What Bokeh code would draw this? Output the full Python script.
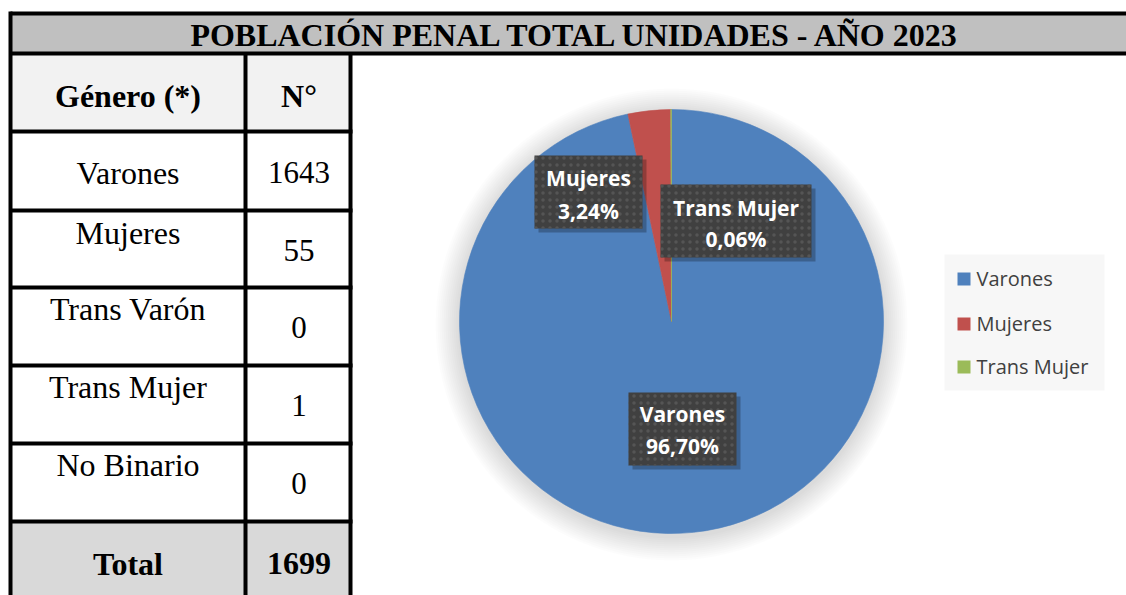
import numpy as np
from bokeh.plotting import figure
from bokeh.models import Range1d
from bokeh.core.properties import value
from bokeh.embed import file_html
from bokeh.resources import INLINE

# ---------------- data ----------------
title = "POBLACIÓN PENAL TOTAL UNIDADES - AÑO 2023"
table_header = ["Género (*)", "N°"]
genders = ["Varones", "Mujeres", "Trans Varón", "Trans Mujer", "No Binario"]
counts = [1643, 55, 0, 1, 0]
total_label = "Total"
total = 1699
pie_categories = ["Varones", "Mujeres", "Trans Mujer"]
pie_values = [1643, 55, 1]
pie_colors = ["#4F81BD", "#C0504D", "#9BBB59"]

# ---------------- layout (reference pixel coords, y downwards) ----------------
W, H = 1126, 595
def Y(v):
    return 595 - v

p = figure(width=W, height=H, output_backend="svg", toolbar_location=None,
           x_range=Range1d(0, W), y_range=Range1d(0, H),
           min_border=0, min_border_left=0, min_border_right=0,
           min_border_top=0, min_border_bottom=0)
p.axis.visible = False
p.grid.visible = False
p.outline_line_color = None
p.background_fill_color = "white"
p.border_fill_color = "white"

SERIF = value("Liberation Serif")
SANS = value("Open Sans")

# ---------------- title bar ----------------
p.quad(left=[10], right=[1140], top=[Y(13)], bottom=[Y(53)],
       fill_color="#C0C0C0", line_color=None)
p.text(x=[576], y=[Y(34)], text=[title], text_font=SERIF, text_font_size="32px",
       text_font_style="bold", text_align="center", text_baseline="middle",
       text_color="black")

# ---------------- table ----------------
row_edges = [53, 131, 210, 287, 365, 443, 521, 605]
col_edges = [10, 245, 350]
row_fills = ["#F2F2F2", "white", "white", "white", "white", "white", "#D9D9D9"]
for i, f in enumerate(row_fills):
    p.quad(left=[col_edges[0]], right=[col_edges[2]], top=[Y(row_edges[i])],
           bottom=[Y(row_edges[i + 1])], fill_color=f, line_color=None)

# borders
p.segment(x0=[10, 10], y0=[Y(13), Y(53)], x1=[1140, 1140], y1=[Y(13), Y(53)],
          line_color="black", line_width=4)
p.segment(x0=[10], y0=[Y(11)], x1=[10], y1=[Y(605)], line_color="black", line_width=4)
for r in row_edges[1:-1]:
    p.segment(x0=[10], y0=[Y(r)], x1=[352], y1=[Y(r)], line_color="black", line_width=4)
for c in col_edges[1:]:
    p.segment(x0=[c], y0=[Y(53)], x1=[c], y1=[Y(605)], line_color="black", line_width=4)

cx1 = (col_edges[0] + col_edges[1]) / 2
cx2 = (col_edges[1] + col_edges[2]) / 2 + 1

# header
p.text(x=[cx1, cx2], y=[Y(95), Y(95)], text=table_header, text_font=SERIF,
       text_font_size="32px", text_font_style="bold", text_align="center",
       text_baseline="middle", text_color="black")

label_y = [172, 232, 308, 386, 464]
value_y = [172, 250, 327, 405, 483]
p.text(x=[cx1] * len(genders), y=[Y(v) for v in label_y], text=genders,
       text_font=SERIF, text_font_size="32px", text_align="center",
       text_baseline="middle", text_color="black")
p.text(x=[cx2] * len(counts), y=[Y(v) for v in value_y], text=[str(c) for c in counts],
       text_font=SERIF, text_font_size="31px", text_align="center",
       text_baseline="middle", text_color="black")
p.text(x=[cx1, cx2], y=[Y(563), Y(563)], text=[total_label, str(total)], text_font=SERIF,
       text_font_size="32px", text_font_style="bold", text_align="center",
       text_baseline="middle", text_color="black")

# ---------------- pie ----------------
cx, cy, R = 671, 321, 212
# soft shadow
for k in range(1, 13):
    p.circle(x=[cx], y=[Y(cy + 3)], radius=R + 2 * k, fill_color="black",
             fill_alpha=0.01, line_color=None)

vals = np.array(pie_values, dtype=float)
frac = vals / vals.sum()
cum = np.concatenate([[0], np.cumsum(frac)])
starts = np.pi / 2 - 2 * np.pi * cum[:-1]
ends = np.pi / 2 - 2 * np.pi * cum[1:]
p.wedge(x=cx, y=Y(cy), radius=R, start_angle=list(starts), end_angle=list(ends),
        direction="clock", fill_color=pie_colors, line_color=pie_colors, line_width=0.6)

pct = [f"{f * 100:.2f}".replace(".", ",") + "%" for f in frac]

# data label boxes (left, right, top, bottom), line centres
boxes = {
    "Varones": (628, 736, 392, 465, 413, 445),
    "Mujeres": (534, 642, 155, 228, 177, 210),
    "Trans Mujer": (660, 811, 184, 257, 207, 238),
}
for name, pc in zip(pie_categories, pct):
    l, r, t, b, y1, y2 = boxes[name]
    p.quad(left=[l + 4], right=[r + 4], top=[Y(t + 4)], bottom=[Y(b + 4)],
           fill_color="black", fill_alpha=0.25, line_color=None)
    p.quad(left=[l], right=[r], top=[Y(t)], bottom=[Y(b)], fill_color="#404040",
           line_color=None, hatch_pattern="dot", hatch_color="#555555",
           hatch_scale=7, hatch_weight=1.0)
    p.text(x=[(l + r) / 2] * 2, y=[Y(y1), Y(y2)], text=[name, pc], text_font=SANS,
           text_font_size="21px", text_font_style="bold", text_align="center",
           text_baseline="middle", text_color="white")

# ---------------- legend ----------------
p.quad(left=[944], right=[1104], top=[Y(254)], bottom=[Y(390)],
       fill_color="#F7F7F7", line_color=None)
leg_y = [278, 323, 366]
for name, col, ly in zip(pie_categories, pie_colors, leg_y):
    p.quad(left=[957], right=[970], top=[Y(ly - 6)], bottom=[Y(ly + 7)],
           fill_color=col, line_color=None)
    p.text(x=[976], y=[Y(ly)], text=[name], text_font=SANS, text_font_size="20px",
           text_align="left", text_baseline="middle", text_color="#404040")

open("out.html", "w").write(file_html(p, INLINE))
